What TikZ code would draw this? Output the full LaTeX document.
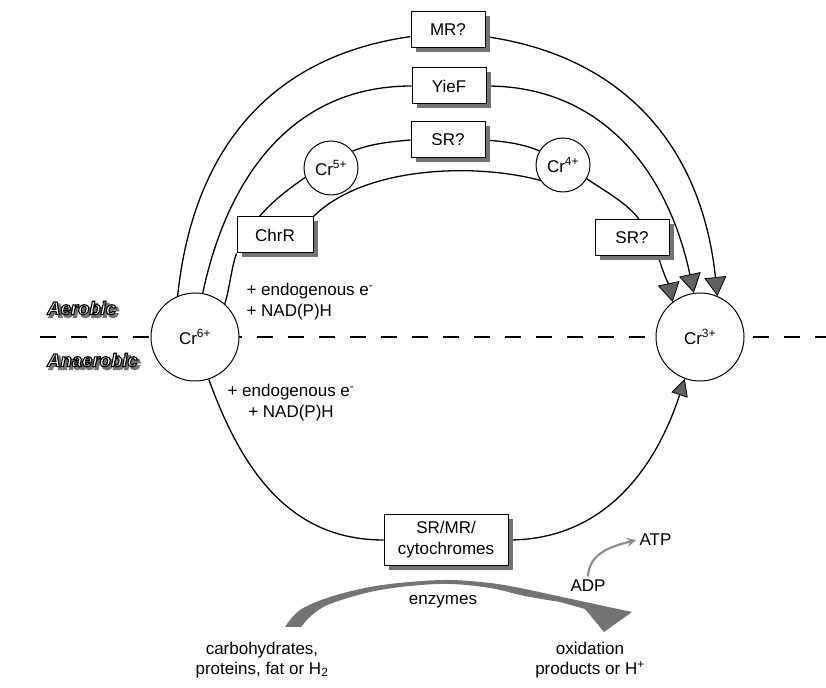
\documentclass[tikz,border=0pt]{standalone}
\usepackage{fontspec}
\setmainfont{Liberation Sans}
\newfontface\zonefont{Liberation Sans Bold Italic}[FakeBold=6]
\newfontface\zoneshadow{Liberation Sans Bold Italic}[FakeBold=10]
\usetikzlibrary{arrows.meta,shadows,calc,backgrounds}
\begin{document}
\begin{tikzpicture}[x=1pt,y=1pt,
  every node/.style={font=\fontsize{17}{21}\selectfont},
  conn/.style={line width=1.3pt},
  enzbox/.style={draw, line width=1pt, fill=white, minimum width=74pt, minimum height=36pt, inner sep=2pt,
     drop shadow={shadow xshift=4.5pt, shadow yshift=-4.5pt, fill=black!55, opacity=1}},
  crbig/.style={draw, circle, fill=white, line width=1pt, minimum size=88pt, inner sep=0pt},
  crsmall/.style={draw, circle, fill=white, line width=1pt, minimum size=54pt, inner sep=0pt},
  toptip/.style={-{Triangle[length=19pt,width=22pt,fill=black!62,color=black,line width=0.8pt]}},
  bottip/.style={-{Triangle[length=17pt,width=17pt,fill=black!62,color=black,line width=0.8pt]}},
  zonelbl/.style={font=\fontsize{18.5}{20}\selectfont, inner sep=0pt, anchor=west},
]
\useasboundingbox (0,0) rectangle (826,687);

% main nodes
\node[crbig] (cr6) at (195,350) {Cr\textsuperscript{6+}};
\node[crbig] (cr3) at (700,350) {Cr\textsuperscript{3+}};
\node[enzbox] (mr) at (448,657) {MR?};
\node[enzbox] (yief) at (449,601) {YieF};
\node[enzbox] (sr1) at (448,547) {SR?};
\node[enzbox, minimum width=76pt] (chrr) at (275,452) {ChrR};
\node[enzbox] (sr2) at (632,449) {SR?};
\node[crsmall] (cr5) at (331,519) {Cr\textsuperscript{5+}};
\node[crsmall] (cr4) at (563,522) {Cr\textsuperscript{4+}};
\node[enzbox, minimum width=124pt, minimum height=51pt, align=center] (cyt) at (446,147) {SR/MR/\\cytochromes};

% texts
\node[anchor=west, align=left] (endoA) at (243,385) {+ endogenous e\textsuperscript{-}\\+ NAD(P)H};
\node[align=center] (endoB) at (291,284) {+ endogenous e\textsuperscript{-}\\+ NAD(P)H};
\node (enz) at (443,85) {enzymes};
\node[align=center, font=\fontsize{17}{20}\selectfont] (carb) at (262,27) {carbohydrates,\\proteins, fat or H\textsubscript{2}};
\node[align=center, font=\fontsize{17}{20}\selectfont] (oxid) at (590,27) {oxidation\\products or H\textsuperscript{+}};
\node (adp) at (588,101) {ADP};
\node[anchor=west] (atp) at (636,147) {ATP};

% zone labels (outlined letters with a shadow)
\node[zonelbl] (aerShadow) at (49.5,376.5) {\color{black!55}\zoneshadow Aerobic};
\node[zonelbl] (anaShadow) at (49.5,324.5) {\color{black!55}\zoneshadow Anaerobic};
\node[zonelbl] (aerobic) at (47,379) {\color{white}\pgfsetstrokecolor{black}\zonefont Aerobic};
\node[zonelbl] (anaerobic) at (47,327) {\color{white}\pgfsetstrokecolor{black}\zonefont Anaerobic};

% enzymes swoosh
\fill[black!55] plot[smooth, tension=0.6] coordinates {(285,60) (300,77) (330,90) (370,100) (410,105) (450,107) (490,104) (520,99) (548,93)}
  -- (632,75) -- (604,55) -- (585,78)
  -- plot[smooth, tension=0.6] coordinates {(560,85) (525,91) (490,99) (450,103) (410,101) (370,95) (330,83) (312,72) (301,60)} -- cycle;

% ADP -> ATP
\draw[black!45, line width=2.2pt, -{Stealth[length=9pt,width=9pt]}] (adp.north) .. controls +(88:25) and +(195:22) .. (atp.west);

\begin{pgfonlayer}{background}
\draw[line width=1.1pt, dash pattern=on 16pt off 15pt] (40,350) -- (826,350);
% outer arc via MR?
\draw[conn] (cr6.113) .. controls +(84:155) and +(188:135) .. (mr.190);
\draw[conn, toptip] (mr.-10) .. controls +(-8:135) and +(96:155) .. (cr3.67);
% YieF arc
\draw[conn] (cr6.80) .. controls +(78:125) and +(180:115) .. (yief.west);
\draw[conn, toptip] (yief.east) .. controls +(0:115) and +(102:125) .. (cr3.98);
% ChrR chain
\draw[conn] (cr6.48) .. controls +(72:15) and +(-110:15) .. (chrr.south west);
\draw[conn] (chrr.130) .. controls +(50:20) and +(215:20) .. (cr5.200);
\draw[conn] (cr5.38) .. controls +(22:20) and +(185:20) .. (sr1.west);
\draw[conn] (sr1.east) .. controls +(-5:20) and +(158:20) .. (cr4.149);
\draw[conn] (cr4.-30) .. controls +(-35:20) and +(125:20) .. (sr2.69);
\draw[conn, toptip] (sr2.-35) .. controls +(-75:15) and +(102:15) .. (cr3.128);
% ChrR direct to Cr4+
\draw[conn] (chrr.north east) .. controls +(45:70) and +(165:70) .. (cr4.214);
% anaerobic route
\draw[conn] (cr6.-72) .. controls +(-70:95) and +(180:95) .. (cyt.west);
\draw[conn, bottip] (cyt.east) .. controls +(0:95) and +(-108:95) .. (cr3.-110);
\end{pgfonlayer}
\end{tikzpicture}
\end{document}
